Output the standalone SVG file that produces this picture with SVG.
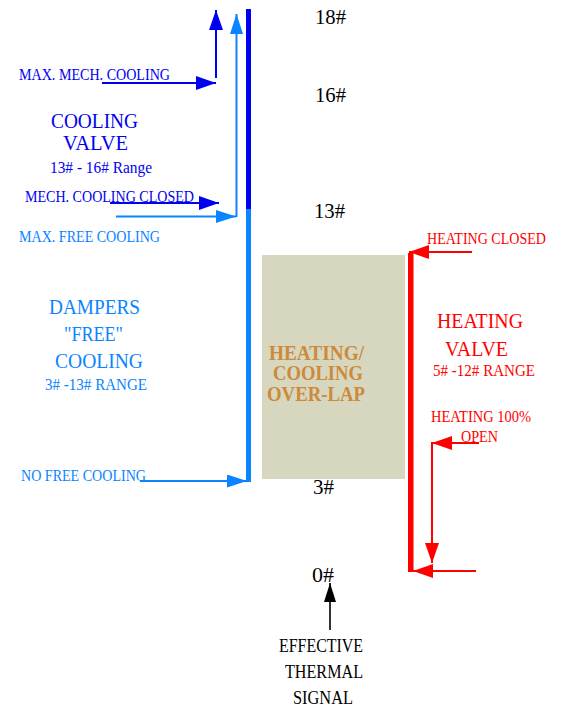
<svg xmlns="http://www.w3.org/2000/svg" width="564" height="712" viewBox="0 0 564 712">
<defs>
<style>
text{font-family:"Liberation Serif","Times New Roman",serif;}
.db{fill:#0000F0;}
.lb{fill:#0A84FF;}
.rd{fill:#FF0000;}
.bk{fill:#000000;}
.or{fill:#CC8A3A;font-weight:bold;}
.s{font-size:16px;}
.m{font-size:18px;}
.b{font-size:22px;}
.o{font-size:21px;}
.n{font-size:22px;}
.ldb{stroke:#0000F0;stroke-width:2;fill:none;}
.llb{stroke:#0A84FF;stroke-width:2;fill:none;}
.lrd{stroke:#FF0000;stroke-width:2;fill:none;}
.lbk{stroke:#000000;stroke-width:1.6;fill:none;}
</style>
<marker id="hdb" markerUnits="userSpaceOnUse" markerWidth="20" markerHeight="14" refX="20" refY="7" orient="auto"><path d="M0,0 L20,7 L0,14 Z" fill="#0000F0"/></marker>
<marker id="hlb" markerUnits="userSpaceOnUse" markerWidth="20" markerHeight="13" refX="20" refY="6.5" orient="auto"><path d="M0,0 L20,6.5 L0,13 Z" fill="#0A84FF"/></marker>
<marker id="hrd" markerUnits="userSpaceOnUse" markerWidth="20" markerHeight="14" refX="20" refY="7" orient="auto"><path d="M0,0 L20,7 L0,14 Z" fill="#FF0000"/></marker>
<marker id="hbk" markerUnits="userSpaceOnUse" markerWidth="19" markerHeight="12" refX="19" refY="6" orient="auto"><path d="M0,0 L19,6 L0,12 Z" fill="#000000"/></marker>
</defs>
<rect width="564" height="712" fill="#ffffff"/>

<g id="overlap">
<rect x="262" y="255" width="143" height="224" fill="#D7D7BF"/>
<text class="or o" x="269" y="360" textLength="95" lengthAdjust="spacingAndGlyphs">HEATING/</text>
<text class="or o" x="273" y="380" textLength="90" lengthAdjust="spacingAndGlyphs">COOLING</text>
<text class="or o" x="267" y="401" textLength="98" lengthAdjust="spacingAndGlyphs">OVER-LAP</text>
</g>

<g id="cooling-bar">
<rect x="246" y="9" width="5" height="200" fill="#0000F0"/>
<rect x="246" y="209" width="5" height="273" fill="#0A84FF"/>
</g>

<g id="heating-bar">
<rect x="408" y="253" width="5.5" height="319" fill="#FF0000"/>
</g>

<g id="connectors">
<line class="ldb" x1="216" y1="78" x2="216" y2="10" marker-end="url(#hdb)"/>
<line class="ldb" x1="102" y1="83" x2="216" y2="83" marker-end="url(#hdb)"/>
<line class="llb" x1="236.5" y1="217" x2="236.5" y2="14" marker-end="url(#hlb)"/>
<line class="ldb" x1="110" y1="203" x2="219" y2="203" marker-end="url(#hdb)"/>
<line class="llb" x1="116" y1="216.5" x2="236" y2="216.5" marker-end="url(#hlb)"/>
<line class="llb" x1="140" y1="481" x2="247" y2="481" marker-end="url(#hlb)"/>
<line class="lrd" x1="472" y1="252" x2="409" y2="252" marker-end="url(#hrd)"/>
<line class="lrd" x1="476" y1="571" x2="413" y2="571" marker-end="url(#hrd)"/>
<line class="lrd" x1="479" y1="443" x2="432" y2="443" marker-end="url(#hrd)"/>
<line class="lrd" x1="432" y1="442" x2="432" y2="563" marker-end="url(#hrd)"/>
<line class="lbk" x1="330" y1="630" x2="330" y2="583" marker-end="url(#hbk)"/>
</g>

<g id="scale">
<text class="bk n" x="315" y="24" textLength="31" lengthAdjust="spacingAndGlyphs">18#</text>
<text class="bk n" x="315" y="102" textLength="31" lengthAdjust="spacingAndGlyphs">16#</text>
<text class="bk n" x="314" y="218" textLength="31" lengthAdjust="spacingAndGlyphs">13#</text>
<text class="bk n" x="313" y="494" textLength="21" lengthAdjust="spacingAndGlyphs">3#</text>
<text class="bk n" x="312" y="582" textLength="22" lengthAdjust="spacingAndGlyphs">0#</text>
</g>

<g id="signal-label">
<text class="bk m" x="279" y="652" textLength="84" lengthAdjust="spacingAndGlyphs">EFFECTIVE</text>
<text class="bk m" x="285" y="678" textLength="78" lengthAdjust="spacingAndGlyphs">THERMAL</text>
<text class="bk m" x="293" y="704" textLength="60" lengthAdjust="spacingAndGlyphs">SIGNAL</text>
</g>

<g id="cooling-valve">
<text class="db s" x="19" y="80" textLength="151" lengthAdjust="spacingAndGlyphs">MAX. MECH. COOLING</text>
<text class="db b" x="51" y="128" textLength="87" lengthAdjust="spacingAndGlyphs">COOLING</text>
<text class="db b" x="63" y="150" textLength="65" lengthAdjust="spacingAndGlyphs">VALVE</text>
<text class="db s" x="50" y="173" textLength="102" lengthAdjust="spacingAndGlyphs">13# - 16# Range</text>
<text class="db s" x="25" y="202" textLength="169" lengthAdjust="spacingAndGlyphs">MECH. COOLING CLOSED</text>
</g>

<g id="dampers">
<text class="lb s" x="19" y="242" textLength="141" lengthAdjust="spacingAndGlyphs">MAX. FREE COOLING</text>
<text class="lb b" x="49" y="314" textLength="91" lengthAdjust="spacingAndGlyphs">DAMPERS</text>
<text class="lb b" x="64" y="341" textLength="59" lengthAdjust="spacingAndGlyphs">"FREE"</text>
<text class="lb b" x="55" y="368" textLength="88" lengthAdjust="spacingAndGlyphs">COOLING</text>
<text class="lb s" x="45" y="390" textLength="102" lengthAdjust="spacingAndGlyphs">3# -13# RANGE</text>
<text class="lb s" x="21" y="481" textLength="125" lengthAdjust="spacingAndGlyphs">NO FREE COOLING</text>
</g>

<g id="heating-valve">
<text class="rd s" x="427" y="244" textLength="119" lengthAdjust="spacingAndGlyphs">HEATING CLOSED</text>
<text class="rd b" x="437" y="328" textLength="86" lengthAdjust="spacingAndGlyphs">HEATING</text>
<text class="rd b" x="445" y="356" textLength="63" lengthAdjust="spacingAndGlyphs">VALVE</text>
<text class="rd s" x="433" y="376" textLength="102" lengthAdjust="spacingAndGlyphs">5# -12# RANGE</text>
<text class="rd s" x="431" y="422" textLength="100" lengthAdjust="spacingAndGlyphs">HEATING 100%</text>
<text class="rd s" x="461" y="442" textLength="37" lengthAdjust="spacingAndGlyphs">OPEN</text>
</g>
</svg>
